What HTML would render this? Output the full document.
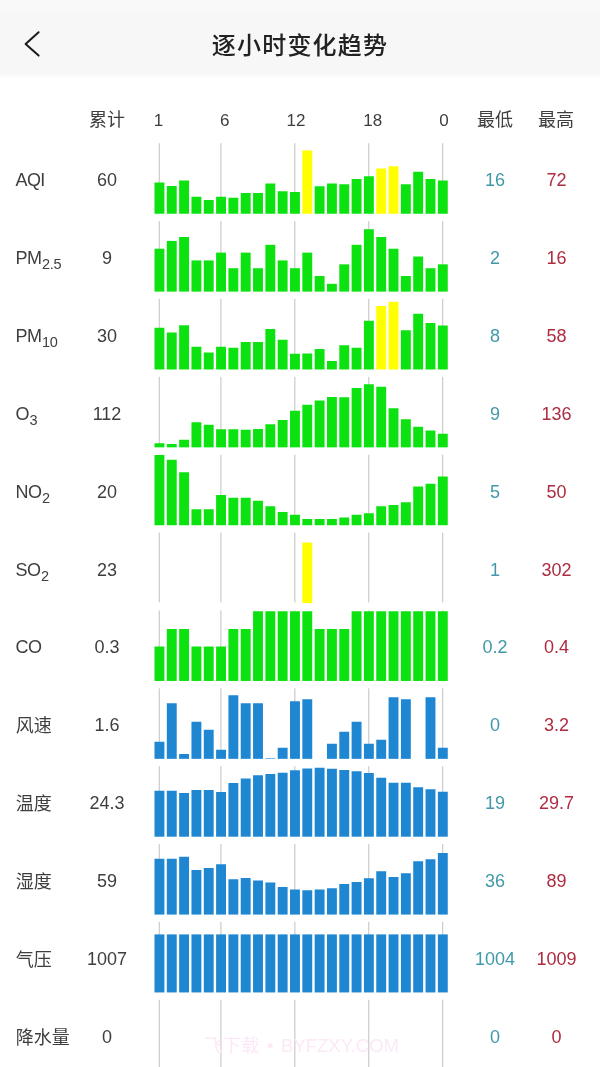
<!DOCTYPE html>
<html lang="zh-CN">
<head>
<meta charset="utf-8">
<title>逐小时变化趋势</title>
<style>
html,body{margin:0;padding:0;}
body{width:600px;height:1067px;overflow:hidden;background:#fff;position:relative;
 font-family:"Liberation Sans","Noto Sans CJK SC",sans-serif;color:#3e3e3e;}
.header{position:absolute;left:0;top:0;width:600px;height:80px;background:linear-gradient(to bottom,#f9f9f9 0,#f9f9f9 11px,#f7f7f7 13px,#f7f7f7 72.5px,#fff 79px);}
.header .back{position:absolute;left:20px;top:26px;width:26px;height:36px;}
.header h1{position:absolute;left:0;top:27.6px;width:600px;margin:0;text-align:center;
 font-size:24px;line-height:36px;font-weight:500;color:#222;letter-spacing:1.2px;}
.thead{position:absolute;left:0;top:107px;width:600px;height:26px;font-size:18px;line-height:26px;}
.thead span{position:absolute;top:0;white-space:nowrap;text-align:center;}
.thead .c1{left:67px;width:80px;}
.thead .c2{left:455px;width:80px;}
.thead .c3{left:516px;width:80px;}
.thead .hr{width:40px;font-size:17px;top:0.5px}
.row{position:absolute;left:0;width:600px;height:24px;line-height:24px;font-size:18px;white-space:nowrap;}
.row span{position:absolute;top:0;}
.row .lab{left:16px;}
.row .cjk{left:15.7px;top:0.7px;}
.row .lat{left:15.5px;letter-spacing:-0.6px;}
.row .avg{left:67px;width:80px;text-align:center;}
.row .min{left:455px;width:80px;text-align:center;color:#4199a9;}
.row .max{left:516.5px;width:80px;text-align:center;color:#ae2b40;}
.row sub{font-size:14.5px;vertical-align:baseline;position:relative;top:5px;line-height:0;margin-left:0.6px;letter-spacing:-0.2px;}
.chart{position:absolute;left:0;top:0;}
.wm{position:absolute;left:204px;top:1033px;font-size:18.5px;line-height:26px;color:#fde8f7;white-space:nowrap;letter-spacing:0;word-spacing:2.4px;}
</style>
</head>
<body>
<div class="header">
<svg class="back" viewBox="0 0 26 36"><path d="M18.6 6.2 L5.6 18 L18.6 29.6" fill="none" stroke="#1a1a1a" stroke-width="2" stroke-linecap="round" stroke-linejoin="round"/></svg>
<h1>逐小时变化趋势</h1>
</div>
<div class="thead"><span class="c1">累计</span><span class="hr" style="left:138.5px">1</span><span class="hr" style="left:204.75px">6</span><span class="hr" style="left:276px">12</span><span class="hr" style="left:352.8px">18</span><span class="hr" style="left:423.9px">0</span><span class="c2">最低</span><span class="c3">最高</span></div>
<svg class="chart" width="600" height="1067" viewBox="0 0 600 1067">
<rect x="158.70" y="143.20" width="1.2" height="69.8" fill="#cbcbcb"/>
<rect x="220.30" y="143.20" width="1.2" height="69.8" fill="#cbcbcb"/>
<rect x="294.22" y="143.20" width="1.2" height="69.8" fill="#cbcbcb"/>
<rect x="368.14" y="143.20" width="1.2" height="69.8" fill="#cbcbcb"/>
<rect x="442.06" y="143.20" width="1.2" height="69.8" fill="#cbcbcb"/>
<rect x="158.70" y="221.07" width="1.2" height="69.8" fill="#cbcbcb"/>
<rect x="220.30" y="221.07" width="1.2" height="69.8" fill="#cbcbcb"/>
<rect x="294.22" y="221.07" width="1.2" height="69.8" fill="#cbcbcb"/>
<rect x="368.14" y="221.07" width="1.2" height="69.8" fill="#cbcbcb"/>
<rect x="442.06" y="221.07" width="1.2" height="69.8" fill="#cbcbcb"/>
<rect x="158.70" y="298.94" width="1.2" height="69.8" fill="#cbcbcb"/>
<rect x="220.30" y="298.94" width="1.2" height="69.8" fill="#cbcbcb"/>
<rect x="294.22" y="298.94" width="1.2" height="69.8" fill="#cbcbcb"/>
<rect x="368.14" y="298.94" width="1.2" height="69.8" fill="#cbcbcb"/>
<rect x="442.06" y="298.94" width="1.2" height="69.8" fill="#cbcbcb"/>
<rect x="158.70" y="376.81" width="1.2" height="69.8" fill="#cbcbcb"/>
<rect x="220.30" y="376.81" width="1.2" height="69.8" fill="#cbcbcb"/>
<rect x="294.22" y="376.81" width="1.2" height="69.8" fill="#cbcbcb"/>
<rect x="368.14" y="376.81" width="1.2" height="69.8" fill="#cbcbcb"/>
<rect x="442.06" y="376.81" width="1.2" height="69.8" fill="#cbcbcb"/>
<rect x="158.70" y="454.68" width="1.2" height="69.8" fill="#cbcbcb"/>
<rect x="220.30" y="454.68" width="1.2" height="69.8" fill="#cbcbcb"/>
<rect x="294.22" y="454.68" width="1.2" height="69.8" fill="#cbcbcb"/>
<rect x="368.14" y="454.68" width="1.2" height="69.8" fill="#cbcbcb"/>
<rect x="442.06" y="454.68" width="1.2" height="69.8" fill="#cbcbcb"/>
<rect x="158.70" y="532.55" width="1.2" height="69.8" fill="#cbcbcb"/>
<rect x="220.30" y="532.55" width="1.2" height="69.8" fill="#cbcbcb"/>
<rect x="294.22" y="532.55" width="1.2" height="69.8" fill="#cbcbcb"/>
<rect x="368.14" y="532.55" width="1.2" height="69.8" fill="#cbcbcb"/>
<rect x="442.06" y="532.55" width="1.2" height="69.8" fill="#cbcbcb"/>
<rect x="158.70" y="610.42" width="1.2" height="69.8" fill="#cbcbcb"/>
<rect x="220.30" y="610.42" width="1.2" height="69.8" fill="#cbcbcb"/>
<rect x="294.22" y="610.42" width="1.2" height="69.8" fill="#cbcbcb"/>
<rect x="368.14" y="610.42" width="1.2" height="69.8" fill="#cbcbcb"/>
<rect x="442.06" y="610.42" width="1.2" height="69.8" fill="#cbcbcb"/>
<rect x="158.70" y="688.29" width="1.2" height="69.8" fill="#cbcbcb"/>
<rect x="220.30" y="688.29" width="1.2" height="69.8" fill="#cbcbcb"/>
<rect x="294.22" y="688.29" width="1.2" height="69.8" fill="#cbcbcb"/>
<rect x="368.14" y="688.29" width="1.2" height="69.8" fill="#cbcbcb"/>
<rect x="442.06" y="688.29" width="1.2" height="69.8" fill="#cbcbcb"/>
<rect x="158.70" y="766.16" width="1.2" height="69.8" fill="#cbcbcb"/>
<rect x="220.30" y="766.16" width="1.2" height="69.8" fill="#cbcbcb"/>
<rect x="294.22" y="766.16" width="1.2" height="69.8" fill="#cbcbcb"/>
<rect x="368.14" y="766.16" width="1.2" height="69.8" fill="#cbcbcb"/>
<rect x="442.06" y="766.16" width="1.2" height="69.8" fill="#cbcbcb"/>
<rect x="158.70" y="844.03" width="1.2" height="69.8" fill="#cbcbcb"/>
<rect x="220.30" y="844.03" width="1.2" height="69.8" fill="#cbcbcb"/>
<rect x="294.22" y="844.03" width="1.2" height="69.8" fill="#cbcbcb"/>
<rect x="368.14" y="844.03" width="1.2" height="69.8" fill="#cbcbcb"/>
<rect x="442.06" y="844.03" width="1.2" height="69.8" fill="#cbcbcb"/>
<rect x="158.70" y="921.90" width="1.2" height="69.8" fill="#cbcbcb"/>
<rect x="220.30" y="921.90" width="1.2" height="69.8" fill="#cbcbcb"/>
<rect x="294.22" y="921.90" width="1.2" height="69.8" fill="#cbcbcb"/>
<rect x="368.14" y="921.90" width="1.2" height="69.8" fill="#cbcbcb"/>
<rect x="442.06" y="921.90" width="1.2" height="69.8" fill="#cbcbcb"/>
<rect x="158.70" y="999.77" width="1.2" height="69.8" fill="#cbcbcb"/>
<rect x="220.30" y="999.77" width="1.2" height="69.8" fill="#cbcbcb"/>
<rect x="294.22" y="999.77" width="1.2" height="69.8" fill="#cbcbcb"/>
<rect x="368.14" y="999.77" width="1.2" height="69.8" fill="#cbcbcb"/>
<rect x="442.06" y="999.77" width="1.2" height="69.8" fill="#cbcbcb"/>
<rect x="154.50" y="182.50" width="9.9" height="31.25" fill="#0ce210"/>
<rect x="166.82" y="186.00" width="9.9" height="27.75" fill="#0ce210"/>
<rect x="179.14" y="180.50" width="9.9" height="33.25" fill="#0ce210"/>
<rect x="191.46" y="196.75" width="9.9" height="17.00" fill="#0ce210"/>
<rect x="203.78" y="200.00" width="9.9" height="13.75" fill="#0ce210"/>
<rect x="216.10" y="196.75" width="9.9" height="17.00" fill="#0ce210"/>
<rect x="228.42" y="197.75" width="9.9" height="16.00" fill="#0ce210"/>
<rect x="240.74" y="193.00" width="9.9" height="20.75" fill="#0ce210"/>
<rect x="253.06" y="193.00" width="9.9" height="20.75" fill="#0ce210"/>
<rect x="265.38" y="183.50" width="9.9" height="30.25" fill="#0ce210"/>
<rect x="277.70" y="191.25" width="9.9" height="22.50" fill="#0ce210"/>
<rect x="290.02" y="192.00" width="9.9" height="21.75" fill="#0ce210"/>
<rect x="302.34" y="150.40" width="9.9" height="63.35" fill="#ffff00"/>
<rect x="314.66" y="186.25" width="9.9" height="27.50" fill="#0ce210"/>
<rect x="326.98" y="183.50" width="9.9" height="30.25" fill="#0ce210"/>
<rect x="339.30" y="184.25" width="9.9" height="29.50" fill="#0ce210"/>
<rect x="351.62" y="179.00" width="9.9" height="34.75" fill="#0ce210"/>
<rect x="363.94" y="176.25" width="9.9" height="37.50" fill="#0ce210"/>
<rect x="376.26" y="168.50" width="9.9" height="45.25" fill="#ffff00"/>
<rect x="388.58" y="166.25" width="9.9" height="47.50" fill="#ffff00"/>
<rect x="400.90" y="184.25" width="9.9" height="29.50" fill="#0ce210"/>
<rect x="413.22" y="171.75" width="9.9" height="42.00" fill="#0ce210"/>
<rect x="425.54" y="179.00" width="9.9" height="34.75" fill="#0ce210"/>
<rect x="437.86" y="180.50" width="9.9" height="33.25" fill="#0ce210"/>
<rect x="154.50" y="248.72" width="9.9" height="42.90" fill="#0ce210"/>
<rect x="166.82" y="240.92" width="9.9" height="50.70" fill="#0ce210"/>
<rect x="179.14" y="237.02" width="9.9" height="54.60" fill="#0ce210"/>
<rect x="191.46" y="260.42" width="9.9" height="31.20" fill="#0ce210"/>
<rect x="203.78" y="260.42" width="9.9" height="31.20" fill="#0ce210"/>
<rect x="216.10" y="252.62" width="9.9" height="39.00" fill="#0ce210"/>
<rect x="228.42" y="268.22" width="9.9" height="23.40" fill="#0ce210"/>
<rect x="240.74" y="252.62" width="9.9" height="39.00" fill="#0ce210"/>
<rect x="253.06" y="268.22" width="9.9" height="23.40" fill="#0ce210"/>
<rect x="265.38" y="244.82" width="9.9" height="46.80" fill="#0ce210"/>
<rect x="277.70" y="260.42" width="9.9" height="31.20" fill="#0ce210"/>
<rect x="290.02" y="268.22" width="9.9" height="23.40" fill="#0ce210"/>
<rect x="302.34" y="252.62" width="9.9" height="39.00" fill="#0ce210"/>
<rect x="314.66" y="276.02" width="9.9" height="15.60" fill="#0ce210"/>
<rect x="326.98" y="283.82" width="9.9" height="7.80" fill="#0ce210"/>
<rect x="339.30" y="264.32" width="9.9" height="27.30" fill="#0ce210"/>
<rect x="351.62" y="244.82" width="9.9" height="46.80" fill="#0ce210"/>
<rect x="363.94" y="229.22" width="9.9" height="62.40" fill="#0ce210"/>
<rect x="376.26" y="237.02" width="9.9" height="54.60" fill="#0ce210"/>
<rect x="388.58" y="248.72" width="9.9" height="42.90" fill="#0ce210"/>
<rect x="400.90" y="276.02" width="9.9" height="15.60" fill="#0ce210"/>
<rect x="413.22" y="256.52" width="9.9" height="35.10" fill="#0ce210"/>
<rect x="425.54" y="268.22" width="9.9" height="23.40" fill="#0ce210"/>
<rect x="437.86" y="264.32" width="9.9" height="27.30" fill="#0ce210"/>
<rect x="154.50" y="327.75" width="9.9" height="41.74" fill="#0ce210"/>
<rect x="166.82" y="332.50" width="9.9" height="36.99" fill="#0ce210"/>
<rect x="179.14" y="325.25" width="9.9" height="44.24" fill="#0ce210"/>
<rect x="191.46" y="346.75" width="9.9" height="22.74" fill="#0ce210"/>
<rect x="203.78" y="352.50" width="9.9" height="16.99" fill="#0ce210"/>
<rect x="216.10" y="346.75" width="9.9" height="22.74" fill="#0ce210"/>
<rect x="228.42" y="347.75" width="9.9" height="21.74" fill="#0ce210"/>
<rect x="240.74" y="342.00" width="9.9" height="27.49" fill="#0ce210"/>
<rect x="253.06" y="342.00" width="9.9" height="27.49" fill="#0ce210"/>
<rect x="265.38" y="329.00" width="9.9" height="40.49" fill="#0ce210"/>
<rect x="277.70" y="339.75" width="9.9" height="29.74" fill="#0ce210"/>
<rect x="290.02" y="353.75" width="9.9" height="15.74" fill="#0ce210"/>
<rect x="302.34" y="353.50" width="9.9" height="15.99" fill="#0ce210"/>
<rect x="314.66" y="349.00" width="9.9" height="20.49" fill="#0ce210"/>
<rect x="326.98" y="361.00" width="9.9" height="8.49" fill="#0ce210"/>
<rect x="339.30" y="345.25" width="9.9" height="24.24" fill="#0ce210"/>
<rect x="351.62" y="347.75" width="9.9" height="21.74" fill="#0ce210"/>
<rect x="363.94" y="320.75" width="9.9" height="48.74" fill="#0ce210"/>
<rect x="376.26" y="306.00" width="9.9" height="63.49" fill="#ffff00"/>
<rect x="388.58" y="301.80" width="9.9" height="67.69" fill="#ffff00"/>
<rect x="400.90" y="330.25" width="9.9" height="39.24" fill="#0ce210"/>
<rect x="413.22" y="313.75" width="9.9" height="55.74" fill="#0ce210"/>
<rect x="425.54" y="323.00" width="9.9" height="46.49" fill="#0ce210"/>
<rect x="437.86" y="325.50" width="9.9" height="43.99" fill="#0ce210"/>
<rect x="154.50" y="443.25" width="9.9" height="4.11" fill="#0ce210"/>
<rect x="166.82" y="444.00" width="9.9" height="3.36" fill="#0ce210"/>
<rect x="179.14" y="439.75" width="9.9" height="7.61" fill="#0ce210"/>
<rect x="191.46" y="422.25" width="9.9" height="25.11" fill="#0ce210"/>
<rect x="203.78" y="424.75" width="9.9" height="22.61" fill="#0ce210"/>
<rect x="216.10" y="429.25" width="9.9" height="18.11" fill="#0ce210"/>
<rect x="228.42" y="429.25" width="9.9" height="18.11" fill="#0ce210"/>
<rect x="240.74" y="429.75" width="9.9" height="17.61" fill="#0ce210"/>
<rect x="253.06" y="429.00" width="9.9" height="18.36" fill="#0ce210"/>
<rect x="265.38" y="424.25" width="9.9" height="23.11" fill="#0ce210"/>
<rect x="277.70" y="420.00" width="9.9" height="27.36" fill="#0ce210"/>
<rect x="290.02" y="410.75" width="9.9" height="36.61" fill="#0ce210"/>
<rect x="302.34" y="404.75" width="9.9" height="42.61" fill="#0ce210"/>
<rect x="314.66" y="400.50" width="9.9" height="46.86" fill="#0ce210"/>
<rect x="326.98" y="397.00" width="9.9" height="50.36" fill="#0ce210"/>
<rect x="339.30" y="397.25" width="9.9" height="50.11" fill="#0ce210"/>
<rect x="351.62" y="388.00" width="9.9" height="59.36" fill="#0ce210"/>
<rect x="363.94" y="384.25" width="9.9" height="63.11" fill="#0ce210"/>
<rect x="376.26" y="386.75" width="9.9" height="60.61" fill="#0ce210"/>
<rect x="388.58" y="408.25" width="9.9" height="39.11" fill="#0ce210"/>
<rect x="400.90" y="419.25" width="9.9" height="28.11" fill="#0ce210"/>
<rect x="413.22" y="426.75" width="9.9" height="20.61" fill="#0ce210"/>
<rect x="425.54" y="430.50" width="9.9" height="16.86" fill="#0ce210"/>
<rect x="437.86" y="433.75" width="9.9" height="13.61" fill="#0ce210"/>
<rect x="154.50" y="455.00" width="9.9" height="70.23" fill="#0ce210"/>
<rect x="166.82" y="459.75" width="9.9" height="65.48" fill="#0ce210"/>
<rect x="179.14" y="472.25" width="9.9" height="52.98" fill="#0ce210"/>
<rect x="191.46" y="509.25" width="9.9" height="15.98" fill="#0ce210"/>
<rect x="203.78" y="509.25" width="9.9" height="15.98" fill="#0ce210"/>
<rect x="216.10" y="495.00" width="9.9" height="30.23" fill="#0ce210"/>
<rect x="228.42" y="497.75" width="9.9" height="27.48" fill="#0ce210"/>
<rect x="240.74" y="497.75" width="9.9" height="27.48" fill="#0ce210"/>
<rect x="253.06" y="500.75" width="9.9" height="24.48" fill="#0ce210"/>
<rect x="265.38" y="506.25" width="9.9" height="18.98" fill="#0ce210"/>
<rect x="277.70" y="512.00" width="9.9" height="13.23" fill="#0ce210"/>
<rect x="290.02" y="514.75" width="9.9" height="10.48" fill="#0ce210"/>
<rect x="302.34" y="519.00" width="9.9" height="6.23" fill="#0ce210"/>
<rect x="314.66" y="519.00" width="9.9" height="6.23" fill="#0ce210"/>
<rect x="326.98" y="519.00" width="9.9" height="6.23" fill="#0ce210"/>
<rect x="339.30" y="517.50" width="9.9" height="7.73" fill="#0ce210"/>
<rect x="351.62" y="514.75" width="9.9" height="10.48" fill="#0ce210"/>
<rect x="363.94" y="513.25" width="9.9" height="11.98" fill="#0ce210"/>
<rect x="376.26" y="506.25" width="9.9" height="18.98" fill="#0ce210"/>
<rect x="388.58" y="505.00" width="9.9" height="20.23" fill="#0ce210"/>
<rect x="400.90" y="502.25" width="9.9" height="22.98" fill="#0ce210"/>
<rect x="413.22" y="486.50" width="9.9" height="38.73" fill="#0ce210"/>
<rect x="425.54" y="483.75" width="9.9" height="41.48" fill="#0ce210"/>
<rect x="437.86" y="476.50" width="9.9" height="48.73" fill="#0ce210"/>
<rect x="302.34" y="542.50" width="9.9" height="60.60" fill="#ffff00"/>
<rect x="154.50" y="646.50" width="9.9" height="34.47" fill="#0ce210"/>
<rect x="166.82" y="629.00" width="9.9" height="51.97" fill="#0ce210"/>
<rect x="179.14" y="629.00" width="9.9" height="51.97" fill="#0ce210"/>
<rect x="191.46" y="646.50" width="9.9" height="34.47" fill="#0ce210"/>
<rect x="203.78" y="646.50" width="9.9" height="34.47" fill="#0ce210"/>
<rect x="216.10" y="646.50" width="9.9" height="34.47" fill="#0ce210"/>
<rect x="228.42" y="629.00" width="9.9" height="51.97" fill="#0ce210"/>
<rect x="240.74" y="629.00" width="9.9" height="51.97" fill="#0ce210"/>
<rect x="253.06" y="611.25" width="9.9" height="69.72" fill="#0ce210"/>
<rect x="265.38" y="611.25" width="9.9" height="69.72" fill="#0ce210"/>
<rect x="277.70" y="611.25" width="9.9" height="69.72" fill="#0ce210"/>
<rect x="290.02" y="611.25" width="9.9" height="69.72" fill="#0ce210"/>
<rect x="302.34" y="611.25" width="9.9" height="69.72" fill="#0ce210"/>
<rect x="314.66" y="629.00" width="9.9" height="51.97" fill="#0ce210"/>
<rect x="326.98" y="629.00" width="9.9" height="51.97" fill="#0ce210"/>
<rect x="339.30" y="629.00" width="9.9" height="51.97" fill="#0ce210"/>
<rect x="351.62" y="611.25" width="9.9" height="69.72" fill="#0ce210"/>
<rect x="363.94" y="611.25" width="9.9" height="69.72" fill="#0ce210"/>
<rect x="376.26" y="611.25" width="9.9" height="69.72" fill="#0ce210"/>
<rect x="388.58" y="611.25" width="9.9" height="69.72" fill="#0ce210"/>
<rect x="400.90" y="611.25" width="9.9" height="69.72" fill="#0ce210"/>
<rect x="413.22" y="611.25" width="9.9" height="69.72" fill="#0ce210"/>
<rect x="425.54" y="611.25" width="9.9" height="69.72" fill="#0ce210"/>
<rect x="437.86" y="611.25" width="9.9" height="69.72" fill="#0ce210"/>
<rect x="154.50" y="741.75" width="9.9" height="17.09" fill="#1f87d2"/>
<rect x="166.82" y="703.25" width="9.9" height="55.59" fill="#1f87d2"/>
<rect x="179.14" y="754.00" width="9.9" height="4.84" fill="#1f87d2"/>
<rect x="191.46" y="721.75" width="9.9" height="37.09" fill="#1f87d2"/>
<rect x="203.78" y="729.75" width="9.9" height="29.09" fill="#1f87d2"/>
<rect x="216.10" y="749.75" width="9.9" height="9.09" fill="#1f87d2"/>
<rect x="228.42" y="695.25" width="9.9" height="63.59" fill="#1f87d2"/>
<rect x="240.74" y="703.25" width="9.9" height="55.59" fill="#1f87d2"/>
<rect x="253.06" y="703.25" width="9.9" height="55.59" fill="#1f87d2"/>
<rect x="265.38" y="758.25" width="9.9" height="0.59" fill="#1f87d2"/>
<rect x="277.70" y="747.75" width="9.9" height="11.09" fill="#1f87d2"/>
<rect x="290.02" y="701.25" width="9.9" height="57.59" fill="#1f87d2"/>
<rect x="302.34" y="699.25" width="9.9" height="59.59" fill="#1f87d2"/>
<rect x="326.98" y="743.75" width="9.9" height="15.09" fill="#1f87d2"/>
<rect x="339.30" y="731.75" width="9.9" height="27.09" fill="#1f87d2"/>
<rect x="351.62" y="721.75" width="9.9" height="37.09" fill="#1f87d2"/>
<rect x="363.94" y="743.75" width="9.9" height="15.09" fill="#1f87d2"/>
<rect x="376.26" y="739.75" width="9.9" height="19.09" fill="#1f87d2"/>
<rect x="388.58" y="697.25" width="9.9" height="61.59" fill="#1f87d2"/>
<rect x="400.90" y="699.25" width="9.9" height="59.59" fill="#1f87d2"/>
<rect x="425.54" y="697.25" width="9.9" height="61.59" fill="#1f87d2"/>
<rect x="437.86" y="747.75" width="9.9" height="11.09" fill="#1f87d2"/>
<rect x="154.50" y="790.75" width="9.9" height="45.96" fill="#1f87d2"/>
<rect x="166.82" y="790.75" width="9.9" height="45.96" fill="#1f87d2"/>
<rect x="179.14" y="793.00" width="9.9" height="43.71" fill="#1f87d2"/>
<rect x="191.46" y="790.00" width="9.9" height="46.71" fill="#1f87d2"/>
<rect x="203.78" y="790.00" width="9.9" height="46.71" fill="#1f87d2"/>
<rect x="216.10" y="792.00" width="9.9" height="44.71" fill="#1f87d2"/>
<rect x="228.42" y="783.00" width="9.9" height="53.71" fill="#1f87d2"/>
<rect x="240.74" y="778.50" width="9.9" height="58.21" fill="#1f87d2"/>
<rect x="253.06" y="775.25" width="9.9" height="61.46" fill="#1f87d2"/>
<rect x="265.38" y="774.00" width="9.9" height="62.71" fill="#1f87d2"/>
<rect x="277.70" y="772.75" width="9.9" height="63.96" fill="#1f87d2"/>
<rect x="290.02" y="770.25" width="9.9" height="66.46" fill="#1f87d2"/>
<rect x="302.34" y="768.50" width="9.9" height="68.21" fill="#1f87d2"/>
<rect x="314.66" y="767.75" width="9.9" height="68.96" fill="#1f87d2"/>
<rect x="326.98" y="768.75" width="9.9" height="67.96" fill="#1f87d2"/>
<rect x="339.30" y="770.00" width="9.9" height="66.71" fill="#1f87d2"/>
<rect x="351.62" y="771.25" width="9.9" height="65.46" fill="#1f87d2"/>
<rect x="363.94" y="773.00" width="9.9" height="63.71" fill="#1f87d2"/>
<rect x="376.26" y="777.75" width="9.9" height="58.96" fill="#1f87d2"/>
<rect x="388.58" y="782.75" width="9.9" height="53.96" fill="#1f87d2"/>
<rect x="400.90" y="782.75" width="9.9" height="53.96" fill="#1f87d2"/>
<rect x="413.22" y="787.25" width="9.9" height="49.46" fill="#1f87d2"/>
<rect x="425.54" y="789.25" width="9.9" height="47.46" fill="#1f87d2"/>
<rect x="437.86" y="791.75" width="9.9" height="44.96" fill="#1f87d2"/>
<rect x="154.50" y="858.75" width="9.9" height="55.83" fill="#1f87d2"/>
<rect x="166.82" y="858.75" width="9.9" height="55.83" fill="#1f87d2"/>
<rect x="179.14" y="856.75" width="9.9" height="57.83" fill="#1f87d2"/>
<rect x="191.46" y="870.00" width="9.9" height="44.58" fill="#1f87d2"/>
<rect x="203.78" y="868.00" width="9.9" height="46.58" fill="#1f87d2"/>
<rect x="216.10" y="864.25" width="9.9" height="50.33" fill="#1f87d2"/>
<rect x="228.42" y="879.25" width="9.9" height="35.33" fill="#1f87d2"/>
<rect x="240.74" y="878.00" width="9.9" height="36.58" fill="#1f87d2"/>
<rect x="253.06" y="880.50" width="9.9" height="34.08" fill="#1f87d2"/>
<rect x="265.38" y="882.50" width="9.9" height="32.08" fill="#1f87d2"/>
<rect x="277.70" y="887.00" width="9.9" height="27.58" fill="#1f87d2"/>
<rect x="290.02" y="889.50" width="9.9" height="25.08" fill="#1f87d2"/>
<rect x="302.34" y="890.25" width="9.9" height="24.33" fill="#1f87d2"/>
<rect x="314.66" y="889.50" width="9.9" height="25.08" fill="#1f87d2"/>
<rect x="326.98" y="888.25" width="9.9" height="26.33" fill="#1f87d2"/>
<rect x="339.30" y="884.00" width="9.9" height="30.58" fill="#1f87d2"/>
<rect x="351.62" y="882.00" width="9.9" height="32.58" fill="#1f87d2"/>
<rect x="363.94" y="878.25" width="9.9" height="36.33" fill="#1f87d2"/>
<rect x="376.26" y="871.25" width="9.9" height="43.33" fill="#1f87d2"/>
<rect x="388.58" y="877.00" width="9.9" height="37.58" fill="#1f87d2"/>
<rect x="400.90" y="873.25" width="9.9" height="41.33" fill="#1f87d2"/>
<rect x="413.22" y="861.25" width="9.9" height="53.33" fill="#1f87d2"/>
<rect x="425.54" y="859.25" width="9.9" height="55.33" fill="#1f87d2"/>
<rect x="437.86" y="853.00" width="9.9" height="61.58" fill="#1f87d2"/>
<rect x="154.50" y="934.40" width="9.9" height="58.05" fill="#1f87d2"/>
<rect x="166.82" y="934.40" width="9.9" height="58.05" fill="#1f87d2"/>
<rect x="179.14" y="934.40" width="9.9" height="58.05" fill="#1f87d2"/>
<rect x="191.46" y="934.40" width="9.9" height="58.05" fill="#1f87d2"/>
<rect x="203.78" y="934.40" width="9.9" height="58.05" fill="#1f87d2"/>
<rect x="216.10" y="934.40" width="9.9" height="58.05" fill="#1f87d2"/>
<rect x="228.42" y="934.40" width="9.9" height="58.05" fill="#1f87d2"/>
<rect x="240.74" y="934.40" width="9.9" height="58.05" fill="#1f87d2"/>
<rect x="253.06" y="934.40" width="9.9" height="58.05" fill="#1f87d2"/>
<rect x="265.38" y="934.40" width="9.9" height="58.05" fill="#1f87d2"/>
<rect x="277.70" y="934.40" width="9.9" height="58.05" fill="#1f87d2"/>
<rect x="290.02" y="934.40" width="9.9" height="58.05" fill="#1f87d2"/>
<rect x="302.34" y="934.40" width="9.9" height="58.05" fill="#1f87d2"/>
<rect x="314.66" y="934.40" width="9.9" height="58.05" fill="#1f87d2"/>
<rect x="326.98" y="934.40" width="9.9" height="58.05" fill="#1f87d2"/>
<rect x="339.30" y="934.40" width="9.9" height="58.05" fill="#1f87d2"/>
<rect x="351.62" y="934.40" width="9.9" height="58.05" fill="#1f87d2"/>
<rect x="363.94" y="934.40" width="9.9" height="58.05" fill="#1f87d2"/>
<rect x="376.26" y="934.40" width="9.9" height="58.05" fill="#1f87d2"/>
<rect x="388.58" y="934.40" width="9.9" height="58.05" fill="#1f87d2"/>
<rect x="400.90" y="934.40" width="9.9" height="58.05" fill="#1f87d2"/>
<rect x="413.22" y="934.40" width="9.9" height="58.05" fill="#1f87d2"/>
<rect x="425.54" y="934.40" width="9.9" height="58.05" fill="#1f87d2"/>
<rect x="437.86" y="934.40" width="9.9" height="58.05" fill="#1f87d2"/>
</svg>
<div class="wm">飞下载 • BYFZXY.COM</div>
<div class="row" style="top:168.00px"><span class="lab lat">AQI</span><span class="avg">60</span><span class="min">16</span><span class="max">72</span></div>
<div class="row" style="top:245.90px"><span class="lab lat">PM<sub>2.5</sub></span><span class="avg">9</span><span class="min">2</span><span class="max">16</span></div>
<div class="row" style="top:323.80px"><span class="lab lat">PM<sub>10</sub></span><span class="avg">30</span><span class="min">8</span><span class="max">58</span></div>
<div class="row" style="top:401.70px"><span class="lab lat">O<sub>3</sub></span><span class="avg">112</span><span class="min">9</span><span class="max">136</span></div>
<div class="row" style="top:479.60px"><span class="lab lat">NO<sub>2</sub></span><span class="avg">20</span><span class="min">5</span><span class="max">50</span></div>
<div class="row" style="top:557.50px"><span class="lab lat">SO<sub>2</sub></span><span class="avg">23</span><span class="min">1</span><span class="max">302</span></div>
<div class="row" style="top:635.40px"><span class="lab lat">CO</span><span class="avg">0.3</span><span class="min">0.2</span><span class="max">0.4</span></div>
<div class="row" style="top:713.30px"><span class="lab cjk">风速</span><span class="avg">1.6</span><span class="min">0</span><span class="max">3.2</span></div>
<div class="row" style="top:791.20px"><span class="lab cjk">温度</span><span class="avg">24.3</span><span class="min">19</span><span class="max">29.7</span></div>
<div class="row" style="top:869.10px"><span class="lab cjk">湿度</span><span class="avg">59</span><span class="min">36</span><span class="max">89</span></div>
<div class="row" style="top:947.00px"><span class="lab cjk">气压</span><span class="avg">1007</span><span class="min">1004</span><span class="max">1009</span></div>
<div class="row" style="top:1024.90px"><span class="lab cjk">降水量</span><span class="avg">0</span><span class="min">0</span><span class="max">0</span></div>
</body>
</html>
